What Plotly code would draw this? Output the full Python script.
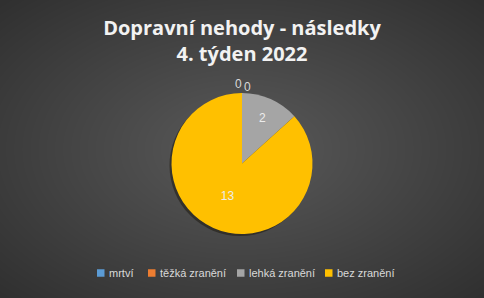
import base64
import struct
import zlib
import numpy as np
import plotly.graph_objects as go

categories = ["mrtví", "těžká zranění", "lehká zranění", "bez zranění"]
values = [0, 0, 2, 13]
colors = ["#5B9BD5", "#ED7D31", "#A5A5A5", "#FFC000"]
title_text = "Dopravní nehody - následky<br>4. týden 2022"

W, H = 484, 298


def radial_png(w, h, inner=0x5a, outer=0x30):
    yy, xx = np.mgrid[0:h, 0:w]
    dx = (xx - w / 2) / (w / 2)
    dy = (yy - h / 2) / (h / 2)
    r = np.clip(np.sqrt(dx ** 2 + dy ** 2) / np.sqrt(2), 0, 1)
    c = (inner - (inner - outer) * r).astype(np.uint8)
    rgb = np.stack([c, c, c], axis=-1)
    raw = b"".join(b"\x00" + rgb[i].tobytes() for i in range(h))

    def chunk(tag, data):
        return struct.pack(">I", len(data)) + tag + data + struct.pack(">I", zlib.crc32(tag + data) & 0xffffffff)

    png = b"\x89PNG\r\n\x1a\n" + chunk(b"IHDR", struct.pack(">IIBBBBB", w, h, 8, 2, 0, 0, 0)) \
        + chunk(b"IDAT", zlib.compress(raw, 9)) + chunk(b"IEND", b"")
    return "data:image/png;base64," + base64.b64encode(png).decode()


pie_top = 1 - 93 / H
pie_bottom = 1 - 234 / H
sx, sy = 2 / W, 2 / H  # shadow offset

fig = go.Figure()
# soft drop shadow under the pie
fig.add_trace(go.Pie(
    values=[sum(values)], labels=["shadow"],
    marker=dict(colors=["rgba(20,15,5,0.45)"], line=dict(width=0)),
    textinfo="none", hoverinfo="skip", showlegend=False, sort=False,
    domain=dict(x=[0.1 - sx, 0.9 - sx], y=[pie_bottom - sy, pie_top - sy]),
))
fig.add_trace(go.Pie(
    labels=categories,
    values=values,
    marker=dict(colors=colors, line=dict(width=0)),
    sort=False,
    direction="clockwise",
    rotation=0,
    textinfo="value",
    textposition="inside",
    insidetextorientation="horizontal",
    textfont=dict(color="#ececec", size=12, family="Liberation Sans"),
    showlegend=False,
    domain=dict(x=[0.1, 0.9], y=[pie_bottom, pie_top]),
))

# zero-valued slices: labels at the top of the pie (as in the original)
zero_idx = [i for i, v in enumerate(values) if v == 0]
annotations = []
for k, i in enumerate(zero_idx):
    annotations.append(dict(
        text=str(values[i]), x=0.5, y=pie_top, xref="paper", yref="paper",
        xanchor="center", yanchor="middle",
        xshift=-4 + 9 * k, yshift=9 - 3 * k, showarrow=False,
        font=dict(family="Liberation Sans", size=12, color="#d9d9d9"),
    ))

# legend (Excel style: small square + label)
legend_x = [97, 148, 237, 325]   # left edge of each legend square, px
legend_y = 273                   # vertical centre, px
shapes = []
for lab, c, x0 in zip(categories, colors, legend_x):
    shapes.append(dict(type="rect", xref="paper", yref="paper",
                       x0=x0 / W, x1=(x0 + 7.5) / W,
                       y0=1 - (legend_y + 3.75) / H, y1=1 - (legend_y - 3.75) / H,
                       fillcolor=c, line=dict(width=0)))
    annotations.append(dict(
        text=lab, x=(x0 + 9.5) / W, y=1 - legend_y / H, xref="paper", yref="paper",
        xanchor="left", yanchor="middle", showarrow=False,
        font=dict(family="Liberation Sans", size=11, color="#d9d9d9"),
    ))

fig.update_layout(
    width=W, height=H,
    paper_bgcolor="#444444",
    plot_bgcolor="rgba(0,0,0,0)",
    margin=dict(l=0, r=0, t=0, b=0),
    images=[dict(source=radial_png(W, H), xref="paper", yref="paper",
                 x=0, y=1, sizex=1, sizey=1, xanchor="left", yanchor="top",
                 sizing="stretch", layer="below")],
    title=dict(text=title_text, x=0.5, xanchor="center", y=0.8826, yanchor="middle",
               font=dict(family="Open Sans", size=20, color="#f2f2f2", weight="bold")),
    annotations=annotations,
    shapes=shapes,
)

fig.write_html("out.html")
